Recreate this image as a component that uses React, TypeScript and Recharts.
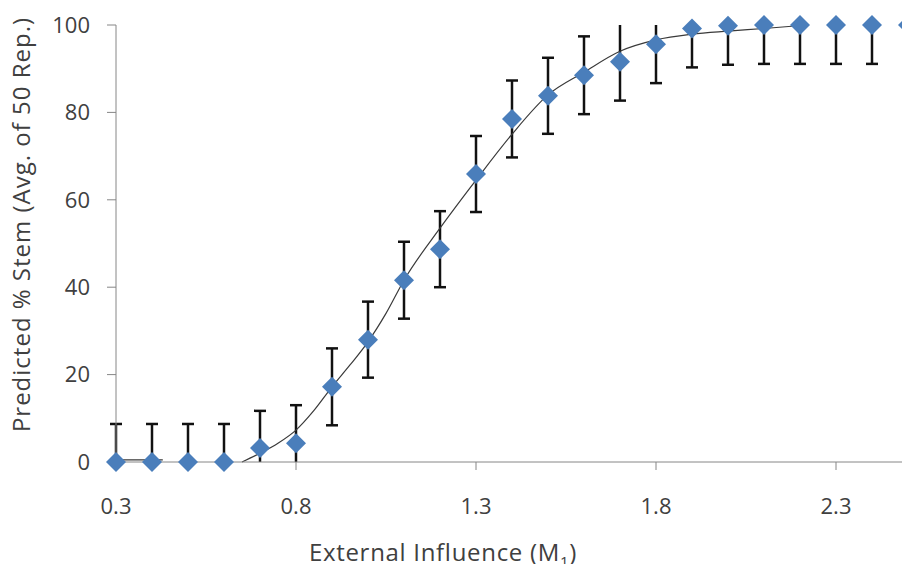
import { ComposedChart, Scatter, Line, XAxis, YAxis, ErrorBar } from 'recharts';

// simulated points, 50 reps each
const influence = [0.3, 0.4, 0.5, 0.6, 0.7, 0.8, 0.9, 1.0, 1.1, 1.2, 1.3, 1.4, 1.5, 1.6, 1.7, 1.8, 1.9, 2.0, 2.1, 2.2, 2.3, 2.4, 2.5];
const stemPct = [0, 0, 0, 0, 3.2, 4.3, 17.2, 28, 41.6, 48.7, 65.9, 78.5, 83.8, 88.5, 91.6, 95.6, 99.2, 99.8, 100, 100, 100, 100, 100];
const stemErr = [8.7, 8.7, 8.7, 8.7, 8.5, 8.7, 8.8, 8.7, 8.8, 8.7, 8.7, 8.8, 8.7, 8.9, 8.9, 8.9, 8.9, 8.9, 8.9, 8.9, 8.9, 8.9, 8.9];

// fitted curve (null = gap)
const fitX = [0.305, 0.43, 0.5, 0.65, 0.7, 0.75, 0.8, 0.85, 0.9, 0.95, 1.0, 1.05, 1.1, 1.2, 1.3, 1.4, 1.5, 1.6, 1.7, 1.8, 1.9, 2.0, 2.1, 2.22];
const fitY = [0.5, 0.5, null, 0, 2, 4.3, 7.3, 11.8, 17.2, 22.2, 27.5, 34, 41.6, 53.5, 64.5, 75, 84, 89.2, 94, 96.6, 97.9, 98.6, 99.2, 100];

const xTicks = [0.3, 0.8, 1.3, 1.8, 2.3];
const yTicks = [0, 20, 40, 60, 80, 100];
const Y_MIN = 0;
const Y_MAX = 100;

// excel cuts bars at the axis limits and drops the cap there,
// so split each bar into a capped part and an uncapped (clipped) part
const points = influence.map((x, i) => {
  const y = stemPct[i];
  const e = stemErr[i];
  const lowCut = y - e < Y_MIN;
  const highCut = y + e > Y_MAX;
  return {
    x,
    y,
    capped: [lowCut ? 0 : e, highCut ? 0 : e],
    clipped: [lowCut ? y - Y_MIN : 0, highCut ? Y_MAX - y : 0],
  };
});
const curve = fitX.map((x, i) => ({ x, fit: fitY[i] }));

const FONT = '"Open Sans", sans-serif';
const tickStyle = { fontSize: 22, fill: '#404040', fontFamily: FONT };
const axisColor = '#868686';

function Diamond(props: any) {
  const { cx, cy } = props;
  const r = 10;
  return (
    <polygon
      points={`${cx},${cy - r} ${cx + r},${cy} ${cx},${cy + r} ${cx - r},${cy}`}
      fill="#4A7EBB"
    />
  );
}

function XTitle(props: any) {
  const { x, y } = props.viewBox;
  return (
    <text x={x + 327} y={y + 99} textAnchor="middle" fontSize={24} fill="#404040" fontFamily={FONT} letterSpacing={0.7}>
      <tspan>External Influence (M</tspan>
      <tspan fontSize={15} dy={6}>1</tspan>
      <tspan dy={-6}>)</tspan>
    </text>
  );
}

function YTitle(props: any) {
  const { x, y, height } = props.viewBox;
  const cx = x + 30;
  const cy = y + height / 2 - 19;
  return (
    <text x={cx} y={cy} transform={`rotate(-90, ${cx}, ${cy})`} textAnchor="middle" fontSize={24} fill="#404040" fontFamily={FONT} letterSpacing={1}>
      Predicted % Stem (Avg. of 50 Rep.)
    </text>
  );
}

export default function App() {
  return (
    <div style={{ position: 'absolute', left: 0, top: 0, width: 902, height: 564, overflow: 'hidden', background: '#fff' }}>
      <ComposedChart width={940} height={564} margin={{ top: 25, right: 32, bottom: 0, left: 0 }}>
        <XAxis
          dataKey="x"
          type="number"
          domain={[0.3, 2.5]}
          ticks={xTicks}
          tickFormatter={(v: number) => v.toFixed(1)}
          height={102}
          tick={tickStyle}
          tickSize={8}
          tickMargin={28}
          stroke={axisColor}
          label={<XTitle />}
        />
        <YAxis
          type="number"
          domain={[Y_MIN, Y_MAX]}
          ticks={yTicks}
          width={116}
          tick={tickStyle}
          tickSize={9}
          tickMargin={17}
          stroke={axisColor}
          label={<YTitle />}
        />
        {/* bars only, markers go in the next series so they sit on top */}
        <Scatter data={points} dataKey="y" shape={() => <g />} isAnimationActive={false}>
          <ErrorBar dataKey="capped" direction="y" width={6} strokeWidth={2.5} stroke="#111" isAnimationActive={false} />
          <ErrorBar dataKey="clipped" direction="y" width={0} strokeWidth={2.5} stroke="#111" isAnimationActive={false} />
        </Scatter>
        <Scatter data={points} dataKey="y" shape={<Diamond />} isAnimationActive={false} />
        <Line
          data={curve}
          dataKey="fit"
          type="monotone"
          stroke="#3a3a3a"
          strokeWidth={1.2}
          dot={false}
          activeDot={false}
          connectNulls={false}
          isAnimationActive={false}
        />
      </ComposedChart>
    </div>
  );
}
